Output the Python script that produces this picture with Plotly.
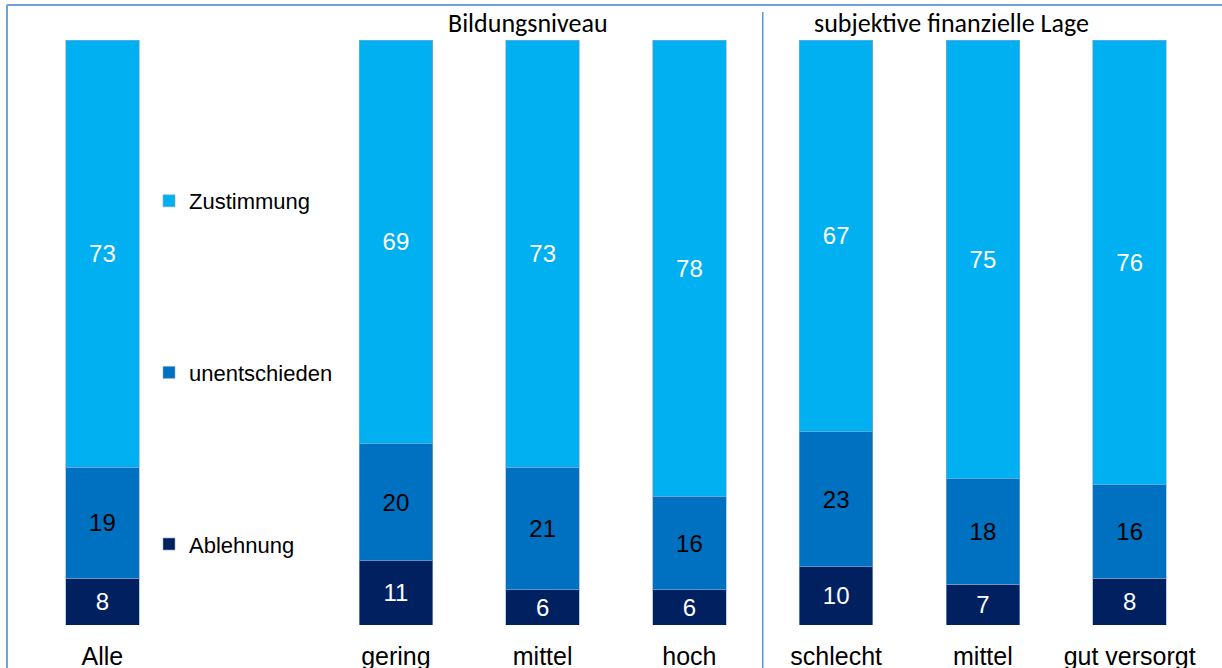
import plotly.graph_objects as go

# ---- data ----
cat_ids = ["Alle", "_gap", "gering", "mittel_b", "hoch", "schlecht", "mittel_f", "gut"]
cat_labels = ["Alle", "", "gering", "mittel", "hoch", "schlecht", "mittel", "gut versorgt"]
bar_ids = ["Alle", "gering", "mittel_b", "hoch", "schlecht", "mittel_f", "gut"]

ablehnung = [8, 11, 6, 6, 10, 7, 8]
unentschieden = [19, 20, 21, 16, 23, 18, 16]
zustimmung = [73, 69, 73, 78, 67, 75, 76]

series = [
    ("Ablehnung", ablehnung, "#002060", "white", 3),
    ("unentschieden", unentschieden, "#0070C0", "black", 2),
    ("Zustimmung", zustimmung, "#00B0F0", "white", 1),
]

fig = go.Figure()
for name, vals, color, tcolor, rank in series:
    fig.add_trace(go.Bar(
        name=name, x=bar_ids, y=vals,
        marker=dict(color=color, line=dict(color="rgba(140,170,210,0.6)", width=1)),
        text=[str(v) for v in vals], textposition="inside", insidetextanchor="middle",
        textangle=0,
        textfont=dict(family="Arial, Liberation Sans", size=24, color=tcolor),
        width=0.5, legendgroup=name, legendrank=rank,
    ))

W, H = 1222, 668
ml, mr, mt, mb = 29, 19, 40, 43
pw = W - ml - mr
ph = H - mt - mb

fig.update_layout(
    width=W, height=H,
    margin=dict(l=ml, r=mr, t=mt, b=mb, autoexpand=False),
    barmode="stack",
    plot_bgcolor="white", paper_bgcolor="white",
    font=dict(family="Arial, Liberation Sans", color="black"),
    uniformtext=dict(mode=False),
    legend=dict(
        x=(149 - ml) / pw, xanchor="left",
        y=(H - mb - 180) / ph, yanchor="top",
        traceorder="grouped", tracegroupgap=140,
        font=dict(size=22, family="Arial, Liberation Sans"),
        bgcolor="rgba(0,0,0,0)",
    ),
    xaxis=dict(
        type="category", categoryorder="array", categoryarray=cat_ids,
        tickvals=cat_ids, ticktext=cat_labels,
        range=[-0.5, len(cat_ids) - 0.5],
        showline=False, showgrid=False, zeroline=False, automargin=False,
        ticks="outside", ticklen=9, tickcolor="rgba(0,0,0,0)",
        tickfont=dict(size=25, family="Arial, Liberation Sans"),
    ),
    yaxis=dict(range=[0, 100], visible=False, showgrid=False, automargin=False),
    bargap=0.5,
)

# frame lines (top and left)
frame_color = "#6FA3DC"
x_left = (7 - ml) / pw
y_top = (H - mb - 5) / ph
fig.add_shape(type="line", xref="paper", yref="paper", x0=x_left, x1=1.1, y0=y_top, y1=y_top,
              line=dict(color=frame_color, width=2))
fig.add_shape(type="line", xref="paper", yref="paper", x0=x_left, x1=x_left, y0=-0.2, y1=y_top,
              line=dict(color=frame_color, width=2))
# separator between groups
fig.add_shape(type="line", xref="x", yref="paper", x0=4.5, x1=4.5, y0=-0.2, y1=(H - mb - 12) / ph,
              line=dict(color="#5B9BD5", width=1.5))

hdr_font = dict(family="Carlito, Calibri, Open Sans", size=26, color="black")
fig.add_annotation(text="Bildungsniveau", xref="paper", yref="paper",
                   x=(528 - ml) / pw, y=(H - mb - 23) / ph, showarrow=False,
                   xanchor="center", yanchor="middle", font=hdr_font)
fig.add_annotation(text="subjektive finanzielle Lage", xref="paper", yref="paper",
                   x=(951 - ml) / pw, y=(H - mb - 23) / ph, showarrow=False,
                   xanchor="center", yanchor="middle", font=hdr_font)

fig.write_html("out.html", config={"displayModeBar": False},
               post_script="document.body.style.margin='0px';")
